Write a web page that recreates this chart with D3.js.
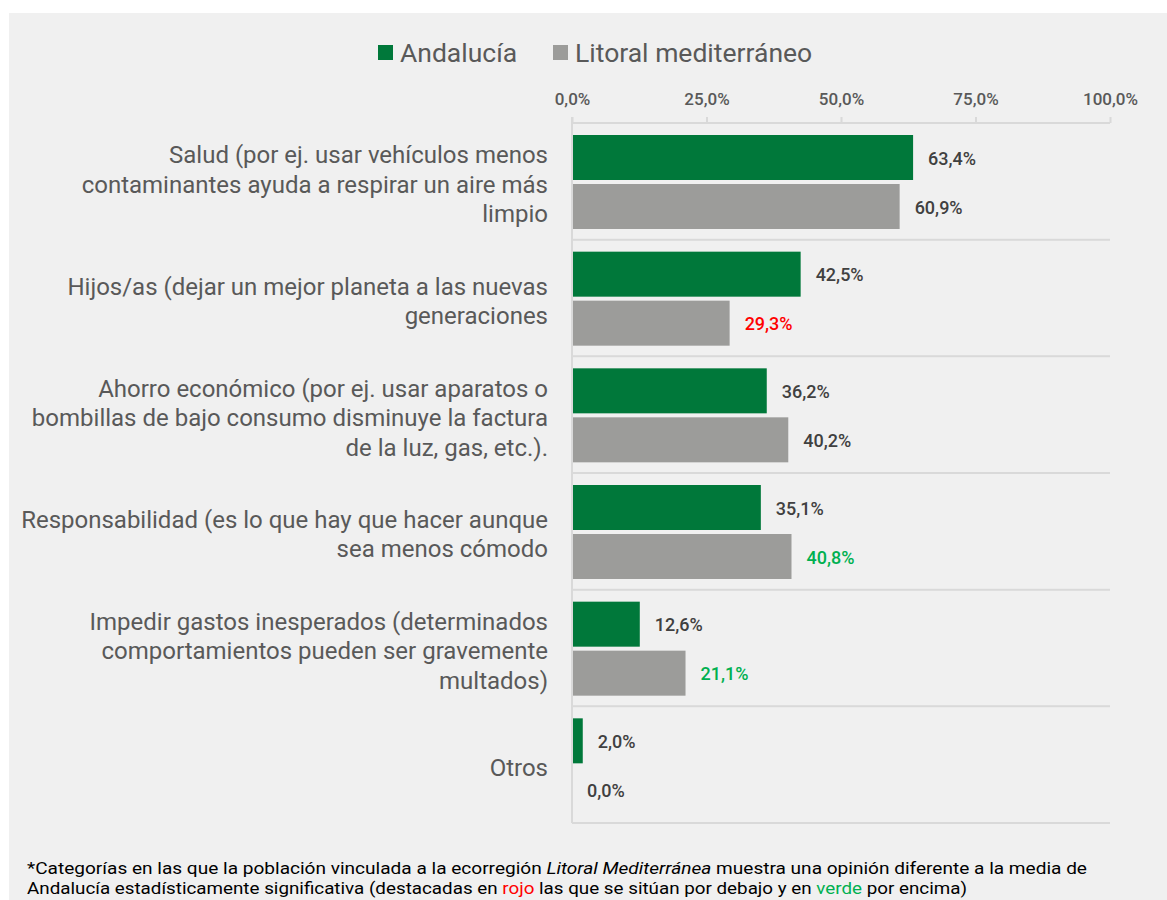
<!DOCTYPE html>
<html><head><meta charset="utf-8">
<script src="https://cdn.jsdelivr.net/npm/d3@7"></script>
<style>body{margin:0;background:#fff;}svg{display:block;}</style>
</head><body>
<script>
const categories = [
  ["Salud (por ej. usar vehículos menos","contaminantes ayuda a respirar un aire más","limpio"],
  ["Hijos/as (dejar un mejor planeta a las nuevas","generaciones"],
  ["Ahorro económico (por ej. usar aparatos o","bombillas de bajo consumo disminuye la factura","de la luz, gas, etc.)."],
  ["Responsabilidad (es lo que hay que hacer aunque","sea menos cómodo"],
  ["Impedir gastos inesperados (determinados","comportamientos pueden ser gravemente","multados)"],
  ["Otros"]
];
const seriesNames = ["Andalucía","Litoral mediterráneo"];
const andalucia = [63.4, 42.5, 36.2, 35.1, 12.6, 2.0];
const litoral = [60.9, 29.3, 40.2, 40.8, 21.1, 0.0];
// significance: -1 below (red), 1 above (green), 0 none
const litoralSig = [0, -1, 0, 1, 1, 0];
const ticks = [0, 25, 50, 75, 100];

const W = 1167, H = 900;
const svg = d3.select("body").append("svg").attr("width", W).attr("height", H);
svg.append("rect").attr("x", 9).attr("y", 13).attr("width", W - 9).attr("height", H - 13).attr("fill", "#f0f0f0");

const font = "Roboto, sans-serif";
const x = d3.scaleLinear().domain([0, 100]).range([572, 1110]);
const y = d3.scaleBand().domain(d3.range(categories.length)).range([123, 823]).padding(0);
const green = "#00783a", grey = "#9c9c9a", gridC = "#d9d9d9";
const fmt = v => d3.format(".1f")(v).replace(".", ",") + "%";

// horizontal grid lines at band boundaries
const bounds = d3.range(categories.length + 1).map(i => i < categories.length ? y(i) : y(categories.length - 1) + y.bandwidth());
svg.selectAll("line.h").data(bounds).join("line")
  .attr("x1", x(0)).attr("x2", x(100)).attr("y1", d => d).attr("y2", d => d)
  .attr("stroke", gridC).attr("stroke-width", 2);

// top axis
const axis = d3.axisTop(x).tickValues(ticks).tickSize(6).tickFormat(d => fmt(d));
const ag = svg.append("g").attr("transform", "translate(0,123)").call(axis);
ag.select(".domain").remove();
ag.selectAll(".tick line").attr("stroke", gridC).attr("stroke-width", 2);
ag.selectAll(".tick text").attr("font-family", font).attr("font-size", 17).attr("font-weight", 500)
  .attr("fill", "#595959").attr("dy", "-0.35em").attr("y", -12);

// vertical axis line
svg.append("line").attr("x1", x(0)).attr("x2", x(0)).attr("y1", 117).attr("y2", 823)
  .attr("stroke", gridC).attr("stroke-width", 2);

const barH = 45, pad = 12, gap = 4;
const rows = categories.map((c, i) => ({i, a: andalucia[i], l: litoral[i], s: litoralSig[i]}));

svg.selectAll("rect.a").data(rows).join("rect")
  .attr("x", x(0) + 1).attr("y", d => y(d.i) + pad).attr("height", barH)
  .attr("width", d => Math.max(0, x(d.a) - x(0) - 1)).attr("fill", green);
svg.selectAll("rect.l").data(rows).join("rect")
  .attr("x", x(0) + 1).attr("y", d => y(d.i) + pad + barH + gap).attr("height", barH)
  .attr("width", d => Math.max(0, x(d.l) - x(0) - 1)).attr("fill", grey);

svg.selectAll("text.va").data(rows).join("text")
  .attr("x", d => x(d.a) + 15).attr("y", d => y(d.i) + pad + barH / 2 + 1)
  .attr("dy", "0.35em").attr("font-family", font).attr("font-size", 18).attr("font-weight", 500)
  .attr("fill", "#404040").text(d => fmt(d.a));
svg.selectAll("text.vl").data(rows).join("text")
  .attr("x", d => x(d.l) + 15).attr("y", d => y(d.i) + pad + barH + gap + barH / 2 + 1)
  .attr("dy", "0.35em").attr("font-family", font).attr("font-size", 18).attr("font-weight", 500)
  .attr("fill", d => d.s < 0 ? "#ff0000" : d.s > 0 ? "#00b050" : "#404040").text(d => fmt(d.l));

// category labels
const lh = 29.5;
const cg = svg.selectAll("text.cat").data(categories).join("text")
  .attr("text-anchor", "end").attr("font-family", font).attr("font-size", 24)
  .attr("fill", "#595959");
cg.each(function(lines, i) {
  const cy = y(i) + y.bandwidth() / 2 + 3;
  const t0 = cy - (lines.length - 1) * lh / 2;
  d3.select(this).selectAll("tspan").data(lines).join("tspan")
    .attr("x", 548).attr("y", (d, j) => t0 + j * lh).attr("dy", "0.35em").text(d => d);
});

// legend
const leg = [{n: seriesNames[0], c: green, x: 378}, {n: seriesNames[1], c: grey, x: 553}];
const lg = svg.selectAll("g.leg").data(leg).join("g");
lg.append("rect").attr("x", d => d.x).attr("y", 45).attr("width", 15).attr("height", 15).attr("fill", d => d.c);
lg.append("text").attr("x", d => d.x + 22).attr("y", 53).attr("dy", "0.35em")
  .attr("font-family", font).attr("font-size", 26.5).attr("fill", "#595959").text(d => d.n);

// footnote
const fn = svg.append("g").attr("font-family", font).attr("font-size", 17).attr("fill", "#000");
const l1 = fn.append("text").attr("x", 27).attr("y", 874).attr("textLength", 1060).attr("lengthAdjust", "spacingAndGlyphs");
l1.append("tspan").text("*Categorías en las que la población vinculada a la ecorregión ");
l1.append("tspan").attr("font-style", "italic").text("Litoral Mediterránea");
l1.append("tspan").text(" muestra una opinión diferente a la media de");
const l2 = fn.append("text").attr("x", 27).attr("y", 894).attr("textLength", 940).attr("lengthAdjust", "spacingAndGlyphs");
l2.append("tspan").text("Andalucía estadísticamente significativa (destacadas en ");
l2.append("tspan").attr("fill", "#ff0000").text("rojo");
l2.append("tspan").text(" las que se sitúan por debajo y en ");
l2.append("tspan").attr("fill", "#00b050").text("verde");
l2.append("tspan").text(" por encima)");
</script>
</body></html>
